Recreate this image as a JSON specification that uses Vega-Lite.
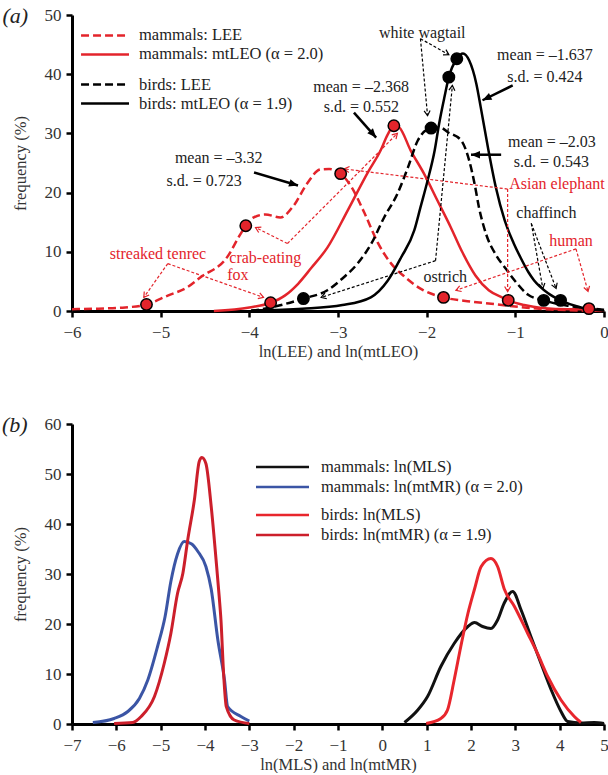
{
  "$schema": "https://vega.github.io/schema/vega-lite/v6.json",
  "padding": {"left": 1, "top": 4, "right": 0, "bottom": 0},
  "spacing": 54,
  "resolve": {"scale": {"color": "independent"}},
  "datasets": {
    "topMammals": [
      {"series": "mammals: LEE", "x": -6.0, "y": 0.3},
      {"series": "mammals: LEE", "x": -5.7, "y": 0.4},
      {"series": "mammals: LEE", "x": -5.4, "y": 0.6},
      {"series": "mammals: LEE", "x": -5.16, "y": 1.1},
      {"series": "mammals: LEE", "x": -4.92, "y": 2.6},
      {"series": "mammals: LEE", "x": -4.7, "y": 4.0},
      {"series": "mammals: LEE", "x": -4.55, "y": 5.7},
      {"series": "mammals: LEE", "x": -4.25, "y": 9.1},
      {"series": "mammals: LEE", "x": -4.1, "y": 13.0},
      {"series": "mammals: LEE", "x": -4.04, "y": 14.4},
      {"series": "mammals: LEE", "x": -3.95, "y": 15.8},
      {"series": "mammals: LEE", "x": -3.82, "y": 16.3},
      {"series": "mammals: LEE", "x": -3.65, "y": 15.8},
      {"series": "mammals: LEE", "x": -3.5, "y": 17.8},
      {"series": "mammals: LEE", "x": -3.35, "y": 21.5},
      {"series": "mammals: LEE", "x": -3.2, "y": 23.9},
      {"series": "mammals: LEE", "x": -3.1, "y": 24.0},
      {"series": "mammals: LEE", "x": -2.97, "y": 23.2},
      {"series": "mammals: LEE", "x": -2.85, "y": 21.0},
      {"series": "mammals: LEE", "x": -2.7, "y": 16.5},
      {"series": "mammals: LEE", "x": -2.55, "y": 11.5},
      {"series": "mammals: LEE", "x": -2.4, "y": 8.0},
      {"series": "mammals: LEE", "x": -2.25, "y": 5.8},
      {"series": "mammals: LEE", "x": -2.05, "y": 3.6},
      {"series": "mammals: LEE", "x": -1.81, "y": 2.3},
      {"series": "mammals: LEE", "x": -1.5, "y": 1.6},
      {"series": "mammals: LEE", "x": -1.2, "y": 1.1},
      {"series": "mammals: LEE", "x": -0.9, "y": 0.6},
      {"series": "mammals: LEE", "x": -0.6, "y": 0.25},
      {"series": "mammals: LEE", "x": -0.3, "y": 0.1},
      {"series": "mammals: LEE", "x": 0.0, "y": 0.0},
      {"series": "mammals: mtLEO (α = 2.0)", "x": -4.4, "y": 0.0},
      {"series": "mammals: mtLEO (α = 2.0)", "x": -4.0, "y": 0.6},
      {"series": "mammals: mtLEO (α = 2.0)", "x": -3.76, "y": 1.4},
      {"series": "mammals: mtLEO (α = 2.0)", "x": -3.6, "y": 2.6},
      {"series": "mammals: mtLEO (α = 2.0)", "x": -3.45, "y": 4.6},
      {"series": "mammals: mtLEO (α = 2.0)", "x": -3.3, "y": 7.3},
      {"series": "mammals: mtLEO (α = 2.0)", "x": -3.12, "y": 10.7},
      {"series": "mammals: mtLEO (α = 2.0)", "x": -2.89, "y": 17.0},
      {"series": "mammals: mtLEO (α = 2.0)", "x": -2.66, "y": 23.5},
      {"series": "mammals: mtLEO (α = 2.0)", "x": -2.52, "y": 27.1},
      {"series": "mammals: mtLEO (α = 2.0)", "x": -2.44, "y": 29.8},
      {"series": "mammals: mtLEO (α = 2.0)", "x": -2.37, "y": 31.3},
      {"series": "mammals: mtLEO (α = 2.0)", "x": -2.31, "y": 31.0},
      {"series": "mammals: mtLEO (α = 2.0)", "x": -2.18, "y": 27.1},
      {"series": "mammals: mtLEO (α = 2.0)", "x": -2.03, "y": 23.2},
      {"series": "mammals: mtLEO (α = 2.0)", "x": -1.88, "y": 18.7},
      {"series": "mammals: mtLEO (α = 2.0)", "x": -1.73, "y": 14.2},
      {"series": "mammals: mtLEO (α = 2.0)", "x": -1.6, "y": 10.0},
      {"series": "mammals: mtLEO (α = 2.0)", "x": -1.45, "y": 6.0},
      {"series": "mammals: mtLEO (α = 2.0)", "x": -1.3, "y": 3.5},
      {"series": "mammals: mtLEO (α = 2.0)", "x": -1.15, "y": 2.3},
      {"series": "mammals: mtLEO (α = 2.0)", "x": -1.08, "y": 1.8},
      {"series": "mammals: mtLEO (α = 2.0)", "x": -0.9, "y": 1.0},
      {"series": "mammals: mtLEO (α = 2.0)", "x": -0.7, "y": 0.5},
      {"series": "mammals: mtLEO (α = 2.0)", "x": -0.4, "y": 0.3},
      {"series": "mammals: mtLEO (α = 2.0)", "x": -0.17, "y": 0.3},
      {"series": "mammals: mtLEO (α = 2.0)", "x": 0.0, "y": 0.1}
    ],
    "topBirds": [
      {"series": "birds: LEE", "x": -3.98, "y": 0.0},
      {"series": "birds: LEE", "x": -3.7, "y": 0.8},
      {"series": "birds: LEE", "x": -3.39, "y": 2.1},
      {"series": "birds: LEE", "x": -3.12, "y": 3.5},
      {"series": "birds: LEE", "x": -2.95, "y": 5.5},
      {"series": "birds: LEE", "x": -2.78, "y": 8.0},
      {"series": "birds: LEE", "x": -2.62, "y": 11.5},
      {"series": "birds: LEE", "x": -2.48, "y": 15.8},
      {"series": "birds: LEE", "x": -2.33, "y": 19.8},
      {"series": "birds: LEE", "x": -2.21, "y": 24.3},
      {"series": "birds: LEE", "x": -2.1, "y": 28.8},
      {"series": "birds: LEE", "x": -1.95, "y": 30.9},
      {"series": "birds: LEE", "x": -1.85, "y": 31.0},
      {"series": "birds: LEE", "x": -1.76, "y": 30.2},
      {"series": "birds: LEE", "x": -1.61, "y": 28.8},
      {"series": "birds: LEE", "x": -1.52, "y": 25.4},
      {"series": "birds: LEE", "x": -1.46, "y": 21.5},
      {"series": "birds: LEE", "x": -1.41, "y": 17.5},
      {"series": "birds: LEE", "x": -1.33, "y": 13.0},
      {"series": "birds: LEE", "x": -1.22, "y": 9.5},
      {"series": "birds: LEE", "x": -1.1, "y": 7.0},
      {"series": "birds: LEE", "x": -1.01, "y": 5.2},
      {"series": "birds: LEE", "x": -0.86, "y": 2.8},
      {"series": "birds: LEE", "x": -0.68, "y": 1.8},
      {"series": "birds: LEE", "x": -0.41, "y": 0.9},
      {"series": "birds: LEE", "x": -0.11, "y": 0.4},
      {"series": "birds: LEE", "x": 0.0, "y": 0.2},
      {"series": "birds: mtLEO (α = 1.9)", "x": -3.98, "y": 0.1},
      {"series": "birds: mtLEO (α = 1.9)", "x": -3.4, "y": 0.4},
      {"series": "birds: mtLEO (α = 1.9)", "x": -2.95, "y": 1.0},
      {"series": "birds: mtLEO (α = 1.9)", "x": -2.63, "y": 2.3},
      {"series": "birds: mtLEO (α = 1.9)", "x": -2.44, "y": 5.1},
      {"series": "birds: mtLEO (α = 1.9)", "x": -2.29, "y": 9.0},
      {"series": "birds: mtLEO (α = 1.9)", "x": -2.14, "y": 13.6},
      {"series": "birds: mtLEO (α = 1.9)", "x": -2.07, "y": 17.5},
      {"series": "birds: mtLEO (α = 1.9)", "x": -1.99, "y": 22.0},
      {"series": "birds: mtLEO (α = 1.9)", "x": -1.91, "y": 27.1},
      {"series": "birds: mtLEO (α = 1.9)", "x": -1.86, "y": 31.6},
      {"series": "birds: mtLEO (α = 1.9)", "x": -1.8, "y": 36.1},
      {"series": "birds: mtLEO (α = 1.9)", "x": -1.75, "y": 39.5},
      {"series": "birds: mtLEO (α = 1.9)", "x": -1.66, "y": 42.6},
      {"series": "birds: mtLEO (α = 1.9)", "x": -1.59, "y": 43.5},
      {"series": "birds: mtLEO (α = 1.9)", "x": -1.52, "y": 42.3},
      {"series": "birds: mtLEO (α = 1.9)", "x": -1.44, "y": 38.4},
      {"series": "birds: mtLEO (α = 1.9)", "x": -1.39, "y": 34.4},
      {"series": "birds: mtLEO (α = 1.9)", "x": -1.31, "y": 27.7},
      {"series": "birds: mtLEO (α = 1.9)", "x": -1.22, "y": 20.9},
      {"series": "birds: mtLEO (α = 1.9)", "x": -1.12, "y": 15.3},
      {"series": "birds: mtLEO (α = 1.9)", "x": -1.02, "y": 11.5},
      {"series": "birds: mtLEO (α = 1.9)", "x": -0.94, "y": 9.0},
      {"series": "birds: mtLEO (α = 1.9)", "x": -0.85, "y": 6.5},
      {"series": "birds: mtLEO (α = 1.9)", "x": -0.79, "y": 5.2},
      {"series": "birds: mtLEO (α = 1.9)", "x": -0.63, "y": 3.0},
      {"series": "birds: mtLEO (α = 1.9)", "x": -0.49, "y": 1.8},
      {"series": "birds: mtLEO (α = 1.9)", "x": -0.26, "y": 0.6},
      {"series": "birds: mtLEO (α = 1.9)", "x": 0.0, "y": 0.1}
    ],
    "topLegend": [
      {"series": "mammals: LEE", "y": 46.54},
      {"series": "mammals: mtLEO (α = 2.0)", "y": 43.33},
      {"series": "birds: LEE", "y": 38.26},
      {"series": "birds: mtLEO (α = 1.9)", "y": 35.05}
    ],
    "topDots": [
      {"kind": "mammal", "x": -5.16, "y": 1.1},
      {"kind": "mammal", "x": -4.04, "y": 14.4},
      {"kind": "mammal", "x": -3.76, "y": 1.4},
      {"kind": "mammal", "x": -2.97, "y": 23.2},
      {"kind": "mammal", "x": -2.37, "y": 31.3},
      {"kind": "mammal", "x": -1.81, "y": 2.3},
      {"kind": "mammal", "x": -1.08, "y": 1.8},
      {"kind": "mammal", "x": -0.17, "y": 0.4},
      {"kind": "bird", "x": -3.39, "y": 2.1},
      {"kind": "bird", "x": -1.95, "y": 30.9},
      {"kind": "bird", "x": -1.75, "y": 39.5},
      {"kind": "bird", "x": -1.66, "y": 42.6},
      {"kind": "bird", "x": -0.68, "y": 1.8},
      {"kind": "bird", "x": -0.49, "y": 1.8}
    ],
    "topArrows": [
      {"kind": "mean", "x": -3.947, "y": 23.4, "x2": -3.451, "y2": 21.2},
      {"kind": "mean", "x": -2.82, "y": 33.5, "x2": -2.57, "y2": 29.3},
      {"kind": "mean", "x": -1.03, "y": 38.1, "x2": -1.37, "y2": 35.6},
      {"kind": "mean", "x": -1.16, "y": 26.4, "x2": -1.5, "y2": 26.4},
      {"kind": "mammal", "x": -1.087, "y": 20.6, "x2": -2.93, "y2": 24.0},
      {"kind": "mammal", "x": -1.087, "y": 20.6, "x2": -1.087, "y2": 3.3},
      {"kind": "mammal", "x": -0.316, "y": 10.5, "x2": -1.67, "y2": 3.5},
      {"kind": "mammal", "x": -0.316, "y": 10.5, "x2": -0.18, "y2": 3.3},
      {"kind": "mammal", "x": -4.92, "y": 8.0, "x2": -5.19, "y2": 2.3},
      {"kind": "mammal", "x": -4.92, "y": 8.0, "x2": -3.84, "y2": 2.3},
      {"kind": "mammal", "x": -3.57, "y": 11.4, "x2": -3.93, "y2": 14.1},
      {"kind": "mammal", "x": -3.57, "y": 11.4, "x2": -2.33, "y2": 30.0},
      {"kind": "bird", "x": -2.07, "y": 46.0, "x2": -1.75, "y2": 43.3},
      {"kind": "bird", "x": -2.07, "y": 46.0, "x2": -1.99, "y2": 33.0},
      {"kind": "bird", "x": -1.9, "y": 8.5, "x2": -1.71, "y2": 38.1},
      {"kind": "bird", "x": -1.9, "y": 8.5, "x2": -3.19, "y2": 2.3},
      {"kind": "bird", "x": -0.82, "y": 14.8, "x2": -0.69, "y2": 3.8},
      {"kind": "bird", "x": -0.82, "y": 14.8, "x2": -0.54, "y2": 3.8}
    ],
    "topLabels": [
      {"kind": "black", "text": "mean = –3.32", "x": -4.345, "y": 25.9},
      {"kind": "black", "text": "s.d. = 0.723", "x": -4.51, "y": 21.9},
      {"kind": "black", "text": "mean = –2.368", "x": -2.74, "y": 37.9},
      {"kind": "black", "text": "s.d. = 0.552", "x": -2.737, "y": 34.5},
      {"kind": "black", "text": "mean = –1.637", "x": -0.666, "y": 43.2},
      {"kind": "black", "text": "s.d. = 0.424", "x": -0.666, "y": 39.6},
      {"kind": "black", "text": "mean = –2.03", "x": -0.587, "y": 28.5},
      {"kind": "black", "text": "s.d. = 0.543", "x": -0.593, "y": 25.1},
      {"kind": "black", "text": "white wagtail", "x": -2.05, "y": 47.0},
      {"kind": "black", "text": "ostrich", "x": -1.79, "y": 5.7},
      {"kind": "black", "text": "chaffinch", "x": -0.65, "y": 16.5},
      {"kind": "red", "text": "Asian elephant", "x": -0.53, "y": 21.5},
      {"kind": "red", "text": "human", "x": -0.372, "y": 11.9},
      {"kind": "red", "text": "streaked tenrec", "x": -5.03, "y": 9.7},
      {"kind": "red", "text": "crab-eating", "x": -3.82, "y": 8.9},
      {"kind": "red", "text": "fox", "x": -4.13, "y": 6.0}
    ],
    "bottomMammals": [
      {"series": "mammals: ln(MLS)", "x": 0.5, "y": 0.3},
      {"series": "mammals: ln(MLS)", "x": 0.8, "y": 2.8},
      {"series": "mammals: ln(MLS)", "x": 1.02, "y": 5.5},
      {"series": "mammals: ln(MLS)", "x": 1.32, "y": 11.5},
      {"series": "mammals: ln(MLS)", "x": 1.62, "y": 16.1},
      {"series": "mammals: ln(MLS)", "x": 1.93, "y": 19.5},
      {"series": "mammals: ln(MLS)", "x": 2.08, "y": 20.3},
      {"series": "mammals: ln(MLS)", "x": 2.26, "y": 19.5},
      {"series": "mammals: ln(MLS)", "x": 2.45, "y": 19.1},
      {"series": "mammals: ln(MLS)", "x": 2.6, "y": 20.8},
      {"series": "mammals: ln(MLS)", "x": 2.75, "y": 24.2},
      {"series": "mammals: ln(MLS)", "x": 2.94, "y": 26.5},
      {"series": "mammals: ln(MLS)", "x": 3.13, "y": 22.8},
      {"series": "mammals: ln(MLS)", "x": 3.35, "y": 17.5},
      {"series": "mammals: ln(MLS)", "x": 3.58, "y": 12.1},
      {"series": "mammals: ln(MLS)", "x": 3.81, "y": 6.8},
      {"series": "mammals: ln(MLS)", "x": 4.03, "y": 2.5},
      {"series": "mammals: ln(MLS)", "x": 4.18, "y": 0.5},
      {"series": "mammals: ln(MLS)", "x": 4.48, "y": 0.2},
      {"series": "mammals: ln(MLS)", "x": 4.78, "y": 0.3},
      {"series": "mammals: ln(MLS)", "x": 5.0, "y": 0.1},
      {"series": "mammals: ln(mtMR) (α = 2.0)", "x": -6.53, "y": 0.3},
      {"series": "mammals: ln(mtMR) (α = 2.0)", "x": -6.05, "y": 1.1},
      {"series": "mammals: ln(mtMR) (α = 2.0)", "x": -5.74, "y": 2.5},
      {"series": "mammals: ln(mtMR) (α = 2.0)", "x": -5.48, "y": 5.1},
      {"series": "mammals: ln(mtMR) (α = 2.0)", "x": -5.29, "y": 8.8},
      {"series": "mammals: ln(mtMR) (α = 2.0)", "x": -5.07, "y": 15.5},
      {"series": "mammals: ln(mtMR) (α = 2.0)", "x": -4.9, "y": 21.5},
      {"series": "mammals: ln(mtMR) (α = 2.0)", "x": -4.77, "y": 28.5},
      {"series": "mammals: ln(mtMR) (α = 2.0)", "x": -4.62, "y": 34.0},
      {"series": "mammals: ln(mtMR) (α = 2.0)", "x": -4.47, "y": 36.5},
      {"series": "mammals: ln(mtMR) (α = 2.0)", "x": -4.3, "y": 36.0},
      {"series": "mammals: ln(mtMR) (α = 2.0)", "x": -4.16, "y": 34.5},
      {"series": "mammals: ln(mtMR) (α = 2.0)", "x": -3.98, "y": 31.5},
      {"series": "mammals: ln(mtMR) (α = 2.0)", "x": -3.86, "y": 27.0},
      {"series": "mammals: ln(mtMR) (α = 2.0)", "x": -3.71, "y": 16.8},
      {"series": "mammals: ln(mtMR) (α = 2.0)", "x": -3.56, "y": 8.8},
      {"series": "mammals: ln(mtMR) (α = 2.0)", "x": -3.49, "y": 3.5},
      {"series": "mammals: ln(mtMR) (α = 2.0)", "x": -3.19, "y": 1.5},
      {"series": "mammals: ln(mtMR) (α = 2.0)", "x": -3.0, "y": 0.6}
    ],
    "bottomBirds": [
      {"series": "birds: ln(MLS)", "x": 0.99, "y": 0.1},
      {"series": "birds: ln(MLS)", "x": 1.32, "y": 1.1},
      {"series": "birds: ln(MLS)", "x": 1.47, "y": 2.8},
      {"series": "birds: ln(MLS)", "x": 1.62, "y": 8.8},
      {"series": "birds: ln(MLS)", "x": 1.77, "y": 15.5},
      {"series": "birds: ln(MLS)", "x": 1.93, "y": 22.1},
      {"series": "birds: ln(MLS)", "x": 2.08, "y": 27.0},
      {"series": "birds: ln(MLS)", "x": 2.23, "y": 31.5},
      {"series": "birds: ln(MLS)", "x": 2.45, "y": 33.1},
      {"series": "birds: ln(MLS)", "x": 2.6, "y": 31.5},
      {"series": "birds: ln(MLS)", "x": 2.75, "y": 27.0},
      {"series": "birds: ln(MLS)", "x": 2.98, "y": 23.5},
      {"series": "birds: ln(MLS)", "x": 3.28, "y": 18.1},
      {"series": "birds: ln(MLS)", "x": 3.5, "y": 14.1},
      {"series": "birds: ln(MLS)", "x": 3.73, "y": 9.5},
      {"series": "birds: ln(MLS)", "x": 4.03, "y": 4.8},
      {"series": "birds: ln(MLS)", "x": 4.33, "y": 1.5},
      {"series": "birds: ln(MLS)", "x": 4.48, "y": 0.3},
      {"series": "birds: ln(mtMR) (α = 1.9)", "x": -6.05, "y": 0.1},
      {"series": "birds: ln(mtMR) (α = 1.9)", "x": -5.63, "y": 0.3},
      {"series": "birds: ln(mtMR) (α = 1.9)", "x": -5.44, "y": 1.5},
      {"series": "birds: ln(mtMR) (α = 1.9)", "x": -5.14, "y": 5.5},
      {"series": "birds: ln(mtMR) (α = 1.9)", "x": -4.92, "y": 12.1},
      {"series": "birds: ln(mtMR) (α = 1.9)", "x": -4.77, "y": 18.1},
      {"series": "birds: ln(mtMR) (α = 1.9)", "x": -4.62, "y": 26.1},
      {"series": "birds: ln(mtMR) (α = 1.9)", "x": -4.5, "y": 30.1},
      {"series": "birds: ln(mtMR) (α = 1.9)", "x": -4.39, "y": 36.8},
      {"series": "birds: ln(mtMR) (α = 1.9)", "x": -4.24, "y": 44.8},
      {"series": "birds: ln(mtMR) (α = 1.9)", "x": -4.13, "y": 52.5},
      {"series": "birds: ln(mtMR) (α = 1.9)", "x": -4.07, "y": 53.3},
      {"series": "birds: ln(mtMR) (α = 1.9)", "x": -3.98, "y": 52.1},
      {"series": "birds: ln(mtMR) (α = 1.9)", "x": -3.86, "y": 43.5},
      {"series": "birds: ln(mtMR) (α = 1.9)", "x": -3.75, "y": 32.8},
      {"series": "birds: ln(mtMR) (α = 1.9)", "x": -3.68, "y": 25.5},
      {"series": "birds: ln(mtMR) (α = 1.9)", "x": -3.64, "y": 20.8},
      {"series": "birds: ln(mtMR) (α = 1.9)", "x": -3.58, "y": 10.0},
      {"series": "birds: ln(mtMR) (α = 1.9)", "x": -3.52, "y": 3.5},
      {"series": "birds: ln(mtMR) (α = 1.9)", "x": -3.34, "y": 0.8},
      {"series": "birds: ln(mtMR) (α = 1.9)", "x": -3.0, "y": 0.1}
    ]
  },
  "vconcat": [
    {
      "width": 532,
      "height": 296,
      "layer": [
        {
          "data": {"name": "topMammals"},
          "transform": [{"filter": "datum.series === 'mammals: LEE'"}],
          "mark": {"type": "line", "interpolate": "monotone", "strokeWidth": 2.5, "strokeDash": [8, 4], "color": "#e3242b"},
          "encoding": {
            "x": {"field": "x", "type": "quantitative", "scale": {"domain": [-6, 0], "nice": false},
                  "axis": {"values": [-6, -5, -4, -3, -2, -1, 0], "format": "d", "title": "ln(LEE) and ln(mtLEO)", "labelFlush": false}},
            "y": {"field": "y", "type": "quantitative", "scale": {"domain": [0, 50], "nice": false},
                  "axis": {"values": [0, 5, 10, 15, 20, 25, 30, 35, 40, 45, 50], "format": "d", "title": "frequency (%)"}}
          }
        },
        {
          "data": {"name": "topMammals"},
          "transform": [{"filter": "datum.series !== 'mammals: LEE'"}],
          "mark": {"type": "line", "interpolate": "monotone", "strokeWidth": 2.5, "color": "#e3242b"},
          "encoding": {"x": {"field": "x", "type": "quantitative"}, "y": {"field": "y", "type": "quantitative"}}
        },
        {
          "data": {"name": "topBirds"},
          "transform": [{"filter": "datum.series === 'birds: LEE'"}],
          "mark": {"type": "line", "interpolate": "monotone", "strokeWidth": 2.5, "strokeDash": [8, 4], "color": "#000000"},
          "encoding": {"x": {"field": "x", "type": "quantitative"}, "y": {"field": "y", "type": "quantitative"}}
        },
        {
          "data": {"name": "topBirds"},
          "transform": [{"filter": "datum.series !== 'birds: LEE'"}],
          "mark": {"type": "line", "interpolate": "monotone", "strokeWidth": 2.5, "color": "#000000"},
          "encoding": {"x": {"field": "x", "type": "quantitative"}, "y": {"field": "y", "type": "quantitative"}}
        },
        {
          "data": {"name": "topLegend"},
          "layer": [
            {
              "mark": {"type": "rule", "strokeWidth": 2.5},
              "encoding": {
                "x": {"datum": -5.898, "type": "quantitative"},
                "x2": {"datum": -5.357},
                "y": {"field": "y", "type": "quantitative"},
                "color": {"condition": {"test": "indexof(datum.series, 'mammals') === 0", "value": "#e3242b"}, "value": "#000000"},
                "strokeDash": {"condition": {"test": "indexof(datum.series, 'LEE') >= 0", "value": [8, 4]}, "value": [1, 0]}
              }
            },
            {
              "mark": {"type": "text", "font": "Liberation Serif", "fontSize": 16.5, "color": "#222222", "align": "left", "baseline": "middle"},
              "encoding": {
                "x": {"datum": -5.244, "type": "quantitative"},
                "y": {"field": "y", "type": "quantitative"},
                "text": {"field": "series"}
              }
            }
          ]
        },
        {
          "data": {"name": "topArrows"},
          "transform": [
            {"calculate": "atan2(-(datum.y2 - datum.y) * 5.92, (datum.x2 - datum.x) * 88.67) * 180 / PI", "as": "angle"}
          ],
          "layer": [
            {
              "transform": [{"filter": "datum.kind === 'mammal'"}],
              "mark": {"type": "rule", "color": "#e3242b", "strokeWidth": 1.2, "strokeDash": [3, 2]},
              "encoding": {"x": {"field": "x", "type": "quantitative"}, "y": {"field": "y", "type": "quantitative"}, "x2": {"field": "x2"}, "y2": {"field": "y2"}}
            },
            {
              "transform": [{"filter": "datum.kind === 'bird'"}],
              "mark": {"type": "rule", "color": "#000000", "strokeWidth": 1.2, "strokeDash": [3, 2]},
              "encoding": {"x": {"field": "x", "type": "quantitative"}, "y": {"field": "y", "type": "quantitative"}, "x2": {"field": "x2"}, "y2": {"field": "y2"}}
            },
            {
              "transform": [{"filter": "datum.kind === 'mean'"}],
              "mark": {"type": "rule", "color": "#000000", "strokeWidth": 2.5},
              "encoding": {"x": {"field": "x", "type": "quantitative"}, "y": {"field": "y", "type": "quantitative"}, "x2": {"field": "x2"}, "y2": {"field": "y2"}}
            },
            {
              "transform": [{"filter": "datum.kind === 'mammal'"}],
              "mark": {"type": "point", "shape": "M-1,-0.6L0,0L-1,0.6", "filled": false, "stroke": "#e3242b", "strokeWidth": 1.2, "size": 100, "opacity": 1},
              "encoding": {"x": {"field": "x2", "type": "quantitative"}, "y": {"field": "y2", "type": "quantitative"}, "angle": {"field": "angle", "type": "quantitative", "scale": null}}
            },
            {
              "transform": [{"filter": "datum.kind === 'bird'"}],
              "mark": {"type": "point", "shape": "M-1,-0.6L0,0L-1,0.6", "filled": false, "stroke": "#000000", "strokeWidth": 1.2, "size": 100, "opacity": 1},
              "encoding": {"x": {"field": "x2", "type": "quantitative"}, "y": {"field": "y2", "type": "quantitative"}, "angle": {"field": "angle", "type": "quantitative", "scale": null}}
            },
            {
              "transform": [{"filter": "datum.kind === 'mean'"}],
              "mark": {"type": "point", "shape": "M0,0L-1,-0.42L-1,0.42Z", "filled": true, "fill": "#000000", "size": 324, "opacity": 1},
              "encoding": {"x": {"field": "x2", "type": "quantitative"}, "y": {"field": "y2", "type": "quantitative"}, "angle": {"field": "angle", "type": "quantitative", "scale": null}}
            }
          ]
        },
        {
          "data": {"name": "topDots"},
          "transform": [{"filter": "datum.kind === 'mammal'"}],
          "mark": {"type": "point", "shape": "circle", "filled": true, "fill": "#e3242b", "stroke": "#000000", "strokeWidth": 1.5, "size": 130, "opacity": 1},
          "encoding": {"x": {"field": "x", "type": "quantitative"}, "y": {"field": "y", "type": "quantitative"}}
        },
        {
          "data": {"name": "topDots"},
          "transform": [{"filter": "datum.kind === 'bird'"}],
          "mark": {"type": "point", "shape": "circle", "filled": true, "fill": "#000000", "stroke": "#000000", "strokeWidth": 1.5, "size": 130, "opacity": 1},
          "encoding": {"x": {"field": "x", "type": "quantitative"}, "y": {"field": "y", "type": "quantitative"}}
        },
        {
          "data": {"name": "topLabels"},
          "transform": [{"filter": "datum.kind === 'black'"}],
          "mark": {"type": "text", "font": "Liberation Serif", "fontSize": 16, "color": "#222222", "align": "center", "baseline": "middle"},
          "encoding": {"x": {"field": "x", "type": "quantitative"}, "y": {"field": "y", "type": "quantitative"}, "text": {"field": "text"}}
        },
        {
          "data": {"name": "topLabels"},
          "transform": [{"filter": "datum.kind === 'red'"}],
          "mark": {"type": "text", "font": "Liberation Serif", "fontSize": 16, "color": "#e3242b", "align": "center", "baseline": "middle"},
          "encoding": {"x": {"field": "x", "type": "quantitative"}, "y": {"field": "y", "type": "quantitative"}, "text": {"field": "text"}}
        },
        {
          "data": {"values": [{"tag": "(a)", "x": -6.64, "y": 49.9}]},
          "mark": {"type": "text", "font": "Liberation Serif", "fontSize": 22, "fontStyle": "italic", "color": "#222222", "align": "center", "baseline": "middle"},
          "encoding": {"x": {"field": "x", "type": "quantitative"}, "y": {"field": "y", "type": "quantitative"}, "text": {"field": "tag"}}
        }
      ]
    },
    {
      "width": 532,
      "height": 300,
      "resolve": {"scale": {"color": "independent"}},
      "layer": [
        {
          "data": {"name": "bottomMammals"},
          "mark": {"type": "line", "interpolate": "monotone", "strokeWidth": 3},
          "encoding": {
            "x": {"field": "x", "type": "quantitative", "scale": {"domain": [-7, 5], "nice": false},
                  "axis": {"values": [-7, -6, -5, -4, -3, -2, -1, 0, 1, 2, 3, 4, 5], "format": "d", "title": "ln(MLS) and ln(mtMR)", "labelFlush": false}},
            "y": {"field": "y", "type": "quantitative", "scale": {"domain": [0, 60], "nice": false},
                  "axis": {"values": [0, 10, 20, 30, 40, 50, 60], "format": "d", "title": "frequency (%)"}},
            "color": {"field": "series", "type": "nominal",
                      "scale": {"domain": ["mammals: ln(MLS)", "mammals: ln(mtMR) (α = 2.0)"], "range": ["#111111", "#3b55a5"]},
                      "legend": {"title": null, "orient": "none", "legendX": 182.5, "legendY": 33, "symbolSize": 2809, "clipHeight": 20, "labelOffset": 10.5, "symbolStrokeWidth": 2.5}}
          }
        },
        {
          "data": {"name": "bottomBirds"},
          "mark": {"type": "line", "interpolate": "monotone", "strokeWidth": 3},
          "encoding": {
            "x": {"field": "x", "type": "quantitative"},
            "y": {"field": "y", "type": "quantitative"},
            "color": {"field": "series", "type": "nominal",
                      "scale": {"domain": ["birds: ln(MLS)", "birds: ln(mtMR) (α = 1.9)"], "range": ["#e8262d", "#cc1f2b"]},
                      "legend": {"title": null, "orient": "none", "legendX": 182.5, "legendY": 81, "symbolSize": 2809, "clipHeight": 20, "labelOffset": 10.5, "symbolStrokeWidth": 2.5}}
          }
        },
        {
          "data": {"values": [{"tag": "(b)", "x": -8.29, "y": 59.8}]},
          "mark": {"type": "text", "font": "Liberation Serif", "fontSize": 22, "fontStyle": "italic", "color": "#222222", "align": "center", "baseline": "middle"},
          "encoding": {"x": {"field": "x", "type": "quantitative"}, "y": {"field": "y", "type": "quantitative"}, "text": {"field": "tag"}}
        }
      ]
    }
  ],
  "config": {
    "font": "Liberation Serif",
    "view": {"stroke": null},
    "axis": {
      "grid": false,
      "domainColor": "#000000",
      "domainWidth": 3,
      "tickColor": "#000000",
      "tickWidth": 2.5,
      "tickSize": 6,
      "labelFont": "Liberation Serif",
      "labelFontSize": 17,
      "labelColor": "#333333",
      "labelPadding": 5,
      "titleFont": "Liberation Serif",
      "titleFontSize": 16.5,
      "titleFontWeight": "normal",
      "titleColor": "#333333"
    },
    "axisY": {"titlePadding": 16},
    "axisX": {"titlePadding": 3, "labelPadding": 7},
    "legend": {
      "labelFont": "Liberation Serif",
      "labelFontSize": 16.5,
      "labelColor": "#222222",
      "labelLimit": 400,
      "padding": 0,
      "rowPadding": 0,
      "symbolType": "stroke"
    }
  }
}
